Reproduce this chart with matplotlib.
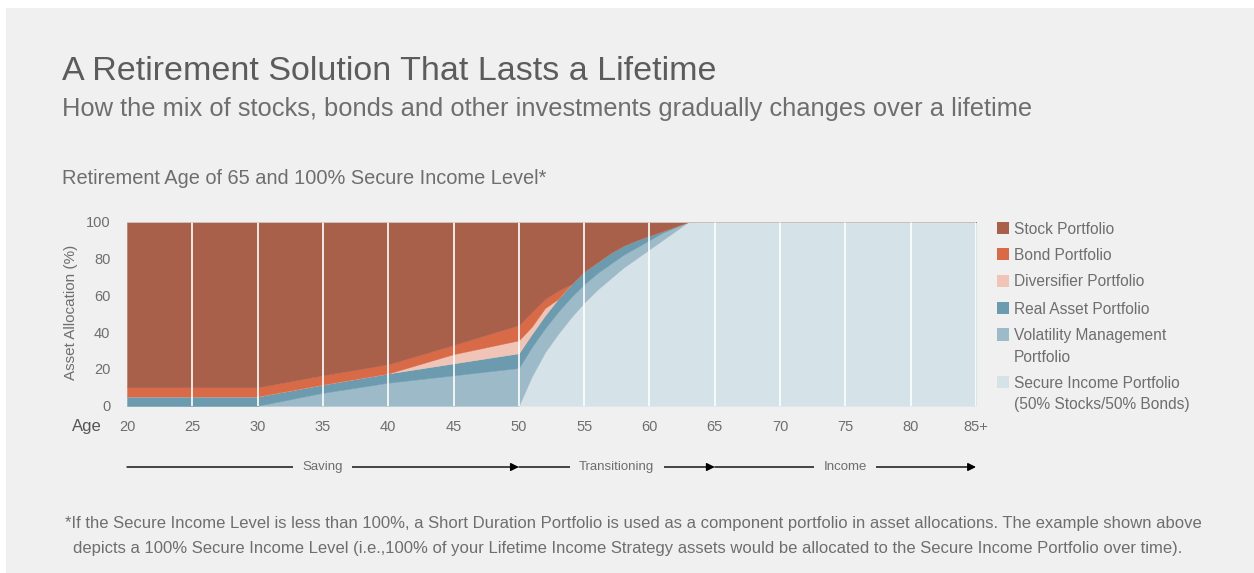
import matplotlib
matplotlib.use("Agg")
import matplotlib.pyplot as plt
from matplotlib.patches import Rectangle

plt.rcParams['font.family'] = ['Liberation Sans', 'DejaVu Sans']

# ---------------- data ----------------
ages = [20, 25, 30, 35, 40, 45, 50, 51, 52, 53, 54, 55, 56, 57, 58, 59, 60, 61, 62, 63, 65, 70, 75, 80, 85]
secure_income = [0, 0, 0, 0, 0, 0, 0, 16, 29, 39, 48, 56, 63, 69, 75, 80, 85, 90, 95, 100, 100, 100, 100, 100, 100]
volatility_mgmt = [0, 0, 0, 7, 12.5, 16.5, 20.5, 16, 13, 12, 11, 10, 9, 8, 7, 6, 5, 4, 2, 0, 0, 0, 0, 0, 0]
real_asset = [5, 5, 5, 4.5, 5, 6.5, 8, 7, 7, 7, 7, 7, 6, 6, 5, 4, 2.5, 1, 0.5, 0, 0, 0, 0, 0, 0]
diversifier = [0, 0, 0, 0, 0, 5, 7, 4, 4, 0, 0, 0, 0, 0, 0, 0, 0, 0, 0, 0, 0, 0, 0, 0, 0]
bond = [5, 5, 5, 5, 5, 5, 8.3, 8, 5, 4.5, 0, 0, 0, 0, 0, 0, 0, 0, 0, 0, 0, 0, 0, 0, 0]
stock = [90, 90, 90, 83.5, 77.5, 67, 56.2, 49, 42, 37.5, 34, 27, 22, 17, 13, 10, 7.5, 5, 2.5, 0, 0, 0, 0, 0, 0]

series_names = ["Stock Portfolio", "Bond Portfolio", "Diversifier Portfolio", "Real Asset Portfolio",
                "Volatility Management\nPortfolio", "Secure Income Portfolio\n(50% Stocks/50% Bonds)"]
x_ticks = [20, 25, 30, 35, 40, 45, 50, 55, 60, 65, 70, 75, 80, 85]
x_tick_labels = ["20", "25", "30", "35", "40", "45", "50", "55", "60", "65", "70", "75", "80", "85+"]
y_ticks = [0, 20, 40, 60, 80, 100]
phases = [("Saving", 20, 50), ("Transitioning", 50, 65), ("Income", 65, 85)]

# colors: stock, bond, diversifier, real asset, volatility, secure income
colors = ["#a9604b", "#d96a47", "#f0c5b7", "#6c9bb0", "#9cbac7", "#d5e2e8"]
BG = "#f0f0f0"
TXT = "#6e6e6e"

W, H = 1254, 573
fig = plt.figure(figsize=(W / 100, H / 100), dpi=100, facecolor="white")
fig.patches.append(Rectangle((6 / W, 0), 1, 1 - 8 / H, transform=fig.transFigure,
                             fc=BG, ec="none", zorder=-10))

def fx(x):
    return x / W

def fy(y):
    return 1 - y / H

ax_left, ax_right, ax_top, ax_bot = 127, 976, 221.7, 405.7
ax = fig.add_axes([fx(ax_left), fy(ax_bot), (ax_right - ax_left) / W, (ax_bot - ax_top) / H])
ax.set_facecolor("none")

polys = ax.stackplot(ages, secure_income, volatility_mgmt, real_asset, diversifier, bond, stock,
                     colors=colors[::-1], linewidth=0.3)
for p, c in zip(polys, colors[::-1]):
    p.set_edgecolor(c)

for xv in x_ticks[1:]:
    ax.axvline(xv, color="white", lw=1.2, zorder=5)
ax.axhline(100, color="#d2d2d2", lw=1.2, zorder=6)

ax.set_xlim(20, 85)
ax.set_ylim(0, 100)
for s in ax.spines.values():
    s.set_visible(False)
ax.set_xticks(x_ticks)
ax.set_xticklabels(x_tick_labels, fontsize=10.5, color=TXT)
ax.set_yticks(y_ticks)
ax.set_yticklabels([str(v) for v in y_ticks], fontsize=10.5, color=TXT)
ax.tick_params(axis="both", length=0)
ax.tick_params(axis="y", pad=12)
ax.tick_params(axis="x", pad=10)

# axis texts
fig.text(fx(72), fy(426), "Age", fontsize=12, color="#555555", ha="left", va="center")
fig.text(fx(71), fy(312), "Asset Allocation (%)", fontsize=11, color=TXT, rotation=90,
         ha="center", va="center")

# phase arrows
yrow = (ax_bot - 467) / (ax_bot - ax_top)
for label, a, b in phases:
    ax.annotate("", xy=(b, yrow), xytext=(a, yrow), xycoords=("data", "axes fraction"),
                textcoords=("data", "axes fraction"),
                arrowprops=dict(arrowstyle="-|>", color="black", lw=1.0, mutation_scale=12,
                                shrinkA=0, shrinkB=0), annotation_clip=False)
    ax.text((a + b) / 2, yrow, label, transform=ax.get_xaxis_transform(), fontsize=9.5,
            color=TXT, ha="center", va="center", clip_on=False,
            bbox=dict(boxstyle="square,pad=0.7", fc=BG, ec="none"))

# titles
fig.text(fx(62), fy(80), "A Retirement Solution That Lasts a Lifetime", fontsize=24.5,
         color="#5c5c5c", ha="left", va="baseline")
fig.text(fx(62), fy(116), "How the mix of stocks, bonds and other investments gradually changes over a lifetime",
         fontsize=18.4, color=TXT, ha="left", va="baseline")
fig.text(fx(62), fy(184), "Retirement Age of 65 and 100% Secure Income Level*", fontsize=14.4,
         color=TXT, ha="left", va="baseline")

# legend
leg_rows = [228, 254, 281, 308, 334.5, 382]
for name, c, yc in zip(series_names, colors, leg_rows):
    fig.patches.append(Rectangle((fx(997), fy(yc + 6.3)), 12.5 / W, 12.5 / H,
                                 transform=fig.transFigure, fc=c, ec="none"))
    for i, line in enumerate(name.split("\n")):
        fig.text(fx(1014), fy(yc + 5.5 + 21.5 * i), line, fontsize=11.2, color=TXT,
                 ha="left", va="baseline")

# footnote
fig.text(fx(65), fy(528), "*If the Secure Income Level is less than 100%, a Short Duration Portfolio is used as a "
         "component portfolio in asset allocations. The example shown above", fontsize=11.95, color=TXT,
         ha="left", va="baseline")
fig.text(fx(73), fy(553), "depicts a 100% Secure Income Level (i.e.,100% of your Lifetime Income Strategy assets "
         "would be allocated to the Secure Income Portfolio over time).", fontsize=12, color=TXT,
         ha="left", va="baseline")

fig.savefig("out.png", dpi=100, facecolor="white")
